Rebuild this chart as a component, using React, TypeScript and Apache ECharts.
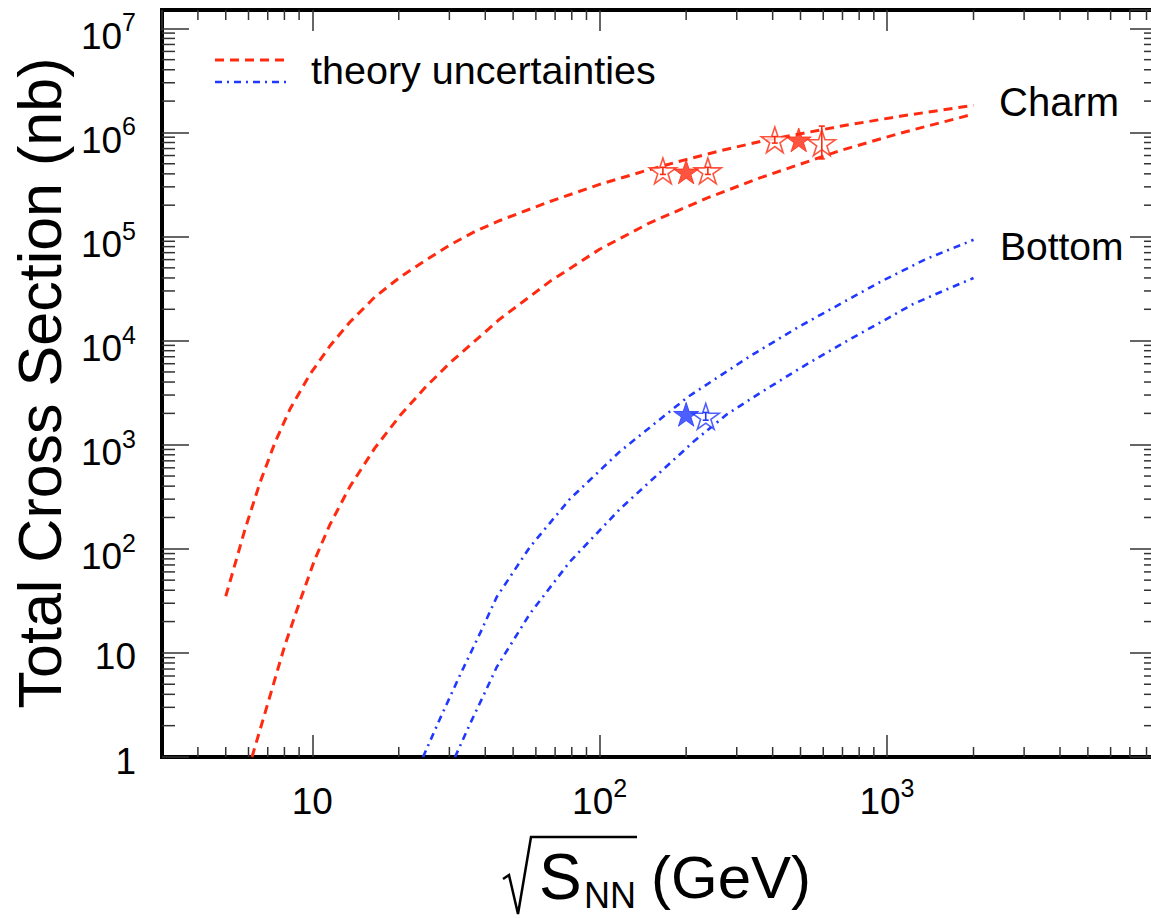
import React, { useEffect, useRef } from 'react';
import * as echarts from 'echarts';

// ---- axis ranges ----
const xMin = 3;
const xMax = 8700;
const yMin = 1;
const yMax = 1.5e7;

// ---- major / minor tick values ----
const xMajorTicks = [10, 100, 1000];
const yMajorTicks = [1, 10, 100, 1e3, 1e4, 1e5, 1e6, 1e7];
const minorMultipliers = [2, 3, 4, 5, 6, 7, 8, 9];
const xDecades = [1, 10, 100, 1000];
const yDecades = [1, 10, 100, 1e3, 1e4, 1e5, 1e6, 1e7];

// ---- theory curves (charm, red dashed) ----
const charmUpperX = [5, 5.38, 5.83, 6.58, 7.42, 8.36, 9.82, 11.5, 13.5, 16.5, 20.2, 24.7, 30.1, 36.8, 45, 67.2, 100, 149.6, 198, 262, 370, 686, 1109, 2000];
const charmUpperY = [35, 70.5, 153, 434, 1052, 2188, 4750, 8830, 15000, 26200, 40700, 58700, 82800, 111700, 142600, 217000, 317000, 441000, 545000, 665000, 830000, 1145000, 1430000, 1820000];
const charmLowerX = [6.17, 7.13, 8.04, 9.06, 10.2, 11.5, 13.5, 16.5, 20.2, 24.7, 30.1, 45, 67.2, 100, 149.6, 236, 361, 686, 1109, 2000];
const charmLowerY = [1, 3.87, 12.0, 31.4, 78.7, 169, 393, 927, 1904, 3540, 6095, 16150, 37100, 75400, 135600, 233700, 365600, 668000, 982000, 1500000];

// ---- theory curves (bottom, blue dash-dot) ----
const bottomUpperX = [24.3, 27.8, 32.7, 38.3, 43.9, 57.2, 78.8, 117.7, 202.9, 333.4, 497.7, 944.7, 1355, 2000];
const bottomUpperY = [1, 2.32, 6.16, 15.3, 34.7, 104, 301, 862, 2879, 7080, 13760, 36500, 60100, 93000];
const bottomLowerX = [31.4, 35.4, 39.9, 43.9, 57.2, 78.8, 117.7, 214.6, 277.3, 355.5, 497.7, 742.9, 944.7, 1231, 1591, 2000];
const bottomLowerY = [1, 2.08, 4.18, 7.35, 23.8, 75.3, 241, 1100, 1958, 3050, 5420, 10310, 14860, 22400, 30550, 39900];

// ---- measurements (stars) ----
const charmFilledX = [200, 493];
const charmFilledY = [418000, 849000];
const charmOpenX = [166, 238, 407, 593];
const charmOpenY = [427000, 427000, 849000, 794000];
const charmOpenLow = [395000, 395000, 790000, 557000];
const charmOpenHigh = [462000, 462000, 912000, 1150000];
const bottomFilledX = [200];
const bottomFilledY = [1960];
const bottomOpenX = [234];
const bottomOpenY = [1873];
const bottomOpenLow = [1720];
const bottomOpenHigh = [2040];

const RED = '#ff2a10';
const BLUE = '#2038ff';
const TICK = '#333';
const FONT = '"Liberation Sans", Arial, Helvetica, sans-serif';

const STAR = 'path://M50 0 L61.23 34.55 L97.55 34.55 L68.16 55.9 L79.39 90.45 L50 69.1 L20.61 90.45 L31.84 55.9 L2.45 34.55 L38.77 34.55 Z';

const zip = (a: number[], b: number[]) => a.map((v, i) => [v, b[i]]);
const xMinor: number[] = [];
xDecades.forEach((d) => minorMultipliers.forEach((m) => { const v = d * m; if (v > xMin && v < xMax) xMinor.push(v); }));
const yMinor: number[] = [];
yDecades.forEach((d) => minorMultipliers.forEach((m) => { const v = d * m; if (v > yMin && v < yMax) yMinor.push(v); }));

function powerOf(v: number): number | null {
  const e = Math.log10(v);
  const r = Math.round(e);
  return Math.abs(e - r) < 1e-4 ? r : null;
}

const xLabel = (v: number) => {
  const r = powerOf(v);
  if (r === null || !xMajorTicks.includes(Math.pow(10, r))) return '';
  if (r === 1) return '{b|10}';
  return `{b|10}{s|${r}}`;
};
const yLabel = (v: number) => {
  const r = powerOf(v);
  if (r === null || !yMajorTicks.includes(Math.pow(10, r))) return '';
  if (r === 0) return '{b0|1}';
  if (r === 1) return '{b0|10}';
  return `{b|10}{s|${r}}`;
};

const lineSeries = (name: string, xs: number[], ys: number[], color: string, dash: number[], width: number) => ({
  name,
  type: 'line',
  data: zip(xs, ys),
  showSymbol: false,
  symbol: 'none',
  smooth: false,
  clip: true,
  silent: true,
  lineStyle: { color, width, type: dash },
  z: 3,
});

const starSeries = (name: string, xs: number[], ys: number[], color: string, filled: boolean, size: number) => ({
  name,
  type: 'scatter',
  data: zip(xs, ys),
  symbol: STAR,
  symbolKeepAspect: true,
  symbolSize: size,
  silent: true,
  itemStyle: filled
    ? { color, borderColor: color, borderWidth: 1 }
    : { color: '#ffffff', borderColor: color, borderWidth: 1.6 },
  z: 6,
});

const errSeries = (name: string, xs: number[], lo: number[], hi: number[], color: string) => ({
  name,
  type: 'custom',
  data: xs.map((x, i) => [x, lo[i], hi[i]]),
  silent: true,
  z: 7,
  renderItem: (params: any, api: any) => {
    const a = api.coord([api.value(0), api.value(1)]);
    const b = api.coord([api.value(0), api.value(2)]);
    const st = { stroke: color, lineWidth: 1.6 };
    return {
      type: 'group',
      children: [
        { type: 'line', shape: { x1: a[0], y1: a[1], x2: b[0], y2: b[1] }, style: st },
        { type: 'line', shape: { x1: a[0] - 3, y1: a[1], x2: a[0] + 3, y2: a[1] }, style: st },
        { type: 'line', shape: { x1: b[0] - 3, y1: b[1], x2: b[0] + 3, y2: b[1] }, style: st },
      ],
    };
  },
});

const option: any = {
  animation: false,
  backgroundColor: '#ffffff',
  grid: {
    left: 162,
    top: 10,
    right: -6,
    bottom: 161,
    show: true,
    borderColor: '#000',
    borderWidth: 4,
    backgroundColor: 'transparent',
    containLabel: false,
    outerBoundsMode: 'none',
  },
  xAxis: [
    {
      type: 'log',
      logBase: 10,
      min: xMin,
      max: xMax,
      position: 'bottom',
      axisLine: { show: false },
      axisTick: { show: true, inside: true, length: 22, lineStyle: { color: TICK, width: 1.5 } },
      splitLine: { show: false },
      axisLabel: {
        show: true,
        margin: 23,
        showMinLabel: false,
        showMaxLabel: false,
        formatter: xLabel,
        rich: {
          b: { fontSize: 37, fontFamily: FONT, color: '#000', lineHeight: 40, padding: [6, 0, 0, 0], verticalAlign: 'bottom' },
          s: { fontSize: 25, fontFamily: FONT, color: '#000', lineHeight: 26, padding: [0, 0, 20, 0], verticalAlign: 'bottom' },
        },
      },
    },
    {
      type: 'log',
      logBase: 10,
      min: xMin,
      max: xMax,
      position: 'top',
      axisLine: { show: false },
      axisTick: { show: true, inside: true, length: 21, lineStyle: { color: TICK, width: 1.5 } },
      splitLine: { show: false },
      axisLabel: { show: false },
    },
  ],
  yAxis: [
    {
      type: 'log',
      logBase: 10,
      min: yMin,
      max: yMax,
      position: 'left',
      axisLine: { show: false },
      axisTick: { show: true, inside: true, length: 27, lineStyle: { color: TICK, width: 1.5 } },
      splitLine: { show: false },
      axisLabel: {
        show: true,
        margin: 26,
        showMinLabel: true,
        showMaxLabel: false,
        formatter: yLabel,
        padding: [13, 0, 0, 0],
        rich: {
          b: { fontSize: 37, fontFamily: FONT, color: '#000', lineHeight: 40, verticalAlign: 'bottom' },
          b0: { fontSize: 37, fontFamily: FONT, color: '#000', lineHeight: 40, padding: [0, 0, 4, 0], verticalAlign: 'bottom' },
          s: { fontSize: 25, fontFamily: FONT, color: '#000', lineHeight: 26, padding: [0, 0, 20, 0], verticalAlign: 'bottom' },
        },
      },
    },
    {
      type: 'log',
      logBase: 10,
      min: yMin,
      max: yMax,
      position: 'right',
      axisLine: { show: false },
      axisTick: { show: true, inside: true, length: 27, lineStyle: { color: TICK, width: 1.5 } },
      splitLine: { show: false },
      axisLabel: { show: false },
    },
  ],
  series: [
    {
      name: 'xMinorTicks',
      type: 'custom',
      data: xMinor.map((v) => [v, yMin]),
      silent: true,
      z: 8,
      renderItem: (params: any, api: any) => {
        const p = api.coord([api.value(0), yMin]);
        const cs = params.coordSys;
        const st = { stroke: TICK, lineWidth: 1.5 };
        return {
          type: 'group',
          children: [
            { type: 'line', shape: { x1: p[0], y1: cs.y + cs.height, x2: p[0], y2: cs.y + cs.height - 10 }, style: st },
            { type: 'line', shape: { x1: p[0], y1: cs.y, x2: p[0], y2: cs.y + 10 }, style: st },
          ],
        };
      },
    },
    {
      name: 'yMinorTicks',
      type: 'custom',
      data: yMinor.map((v) => [xMin, v]),
      silent: true,
      z: 8,
      renderItem: (params: any, api: any) => {
        const p = api.coord([xMin, api.value(1)]);
        const cs = params.coordSys;
        const st = { stroke: TICK, lineWidth: 1.5 };
        return {
          type: 'group',
          children: [
            { type: 'line', shape: { x1: cs.x, y1: p[1], x2: cs.x + 13, y2: p[1] }, style: st },
            { type: 'line', shape: { x1: cs.x + cs.width, y1: p[1], x2: cs.x + cs.width - 13, y2: p[1] }, style: st },
          ],
        };
      },
    },
    lineSeries('Charm upper', charmUpperX, charmUpperY, RED, [9, 6], 3),
    lineSeries('Charm lower', charmLowerX, charmLowerY, RED, [9, 6], 3),
    lineSeries('Bottom upper', bottomUpperX, bottomUpperY, BLUE, [7, 5, 2, 5], 2.6),
    lineSeries('Bottom lower', bottomLowerX, bottomLowerY, BLUE, [7, 5, 2, 5], 2.6),
    starSeries('Charm open', charmOpenX, charmOpenY, RED, false, 27),
    starSeries('Charm filled', charmFilledX, charmFilledY, RED, true, 25),
    starSeries('Bottom open', bottomOpenX, bottomOpenY, BLUE, false, 27),
    starSeries('Bottom filled', bottomFilledX, bottomFilledY, BLUE, true, 25),
    errSeries('Charm open err', charmOpenX, charmOpenLow, charmOpenHigh, RED),
    errSeries('Bottom open err', bottomOpenX, bottomOpenLow, bottomOpenHigh, BLUE),
  ],
  graphic: [
    // legend
    { type: 'line', shape: { x1: 215, y1: 60, x2: 286, y2: 60 }, style: { stroke: RED, lineWidth: 3, lineDash: [9, 6] } },
    { type: 'line', shape: { x1: 215, y1: 82, x2: 286, y2: 82 }, style: { stroke: BLUE, lineWidth: 2.6, lineDash: [7, 5, 2, 5] } },
    { type: 'text', x: 311, y: 70, style: { text: 'theory uncertainties', font: `39.5px ${FONT}`, fill: '#000', align: 'left', verticalAlign: 'middle' } },
    // curve annotations
    { type: 'text', x: 999, y: 102, style: { text: 'Charm', font: `40px ${FONT}`, fill: '#000', align: 'left', verticalAlign: 'middle' } },
    { type: 'text', x: 1000, y: 246, style: { text: 'Bottom', font: `39px ${FONT}`, fill: '#000', align: 'left', verticalAlign: 'middle' } },
    // y title
    { type: 'text', x: 40, y: 383, rotation: Math.PI / 2, style: { text: 'Total Cross Section (nb)', font: `61px ${FONT}`, fill: '#000', align: 'center', verticalAlign: 'middle' } },
    // x title
    { type: 'polyline', shape: { points: [[503, 879], [509, 875], [518, 914], [531, 837], [637, 837]] }, style: { stroke: '#000', lineWidth: 2.5, fill: 'none' } },
    { type: 'text', x: 539, y: 877, style: { text: 'S', font: `64px ${FONT}`, fill: '#000', align: 'left', verticalAlign: 'middle' } },
    { type: 'text', x: 584, y: 895, style: { text: 'NN', font: `36px ${FONT}`, fill: '#000', align: 'left', verticalAlign: 'middle' } },
    { type: 'text', x: 651, y: 877, style: { text: '(GeV)', font: `60px ${FONT}`, fill: '#000', align: 'left', verticalAlign: 'middle' } },
  ],
};

export default function App() {
  const ref = useRef<HTMLDivElement>(null);
  useEffect(() => {
    if (!ref.current) return;
    const chart = echarts.init(ref.current, null, { renderer: 'svg' });
    chart.setOption(option);
    return () => chart.dispose();
  }, []);
  return (
    <div
      ref={ref}
      style={{ position: 'absolute', left: 0, top: 0, width: 1151, height: 918, background: '#fff' }}
    />
  );
}
